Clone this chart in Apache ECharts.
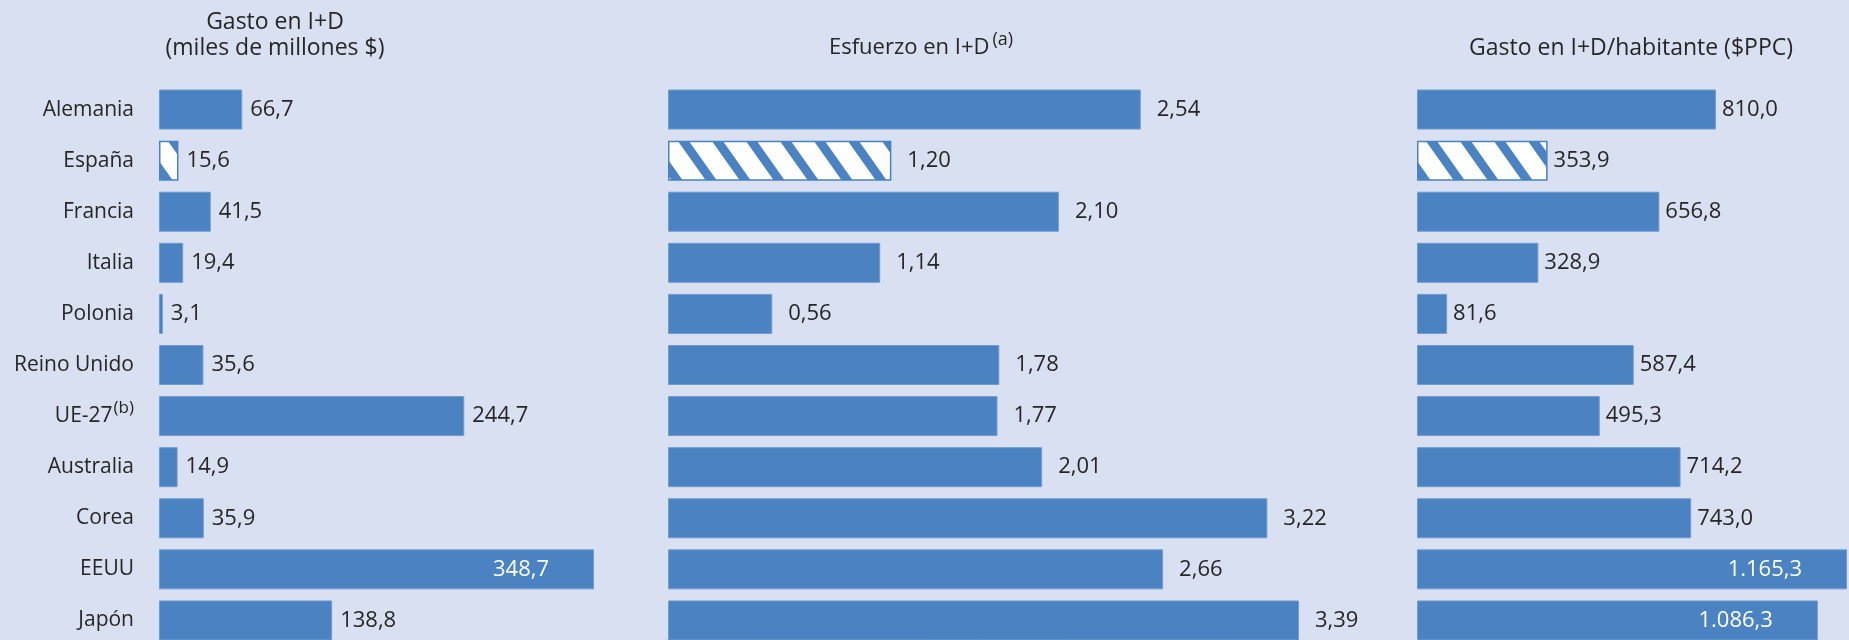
<!DOCTYPE html>
<html><head><meta charset="utf-8">
<script src="https://cdn.jsdelivr.net/npm/echarts@6/dist/echarts.min.js"></script>
<style>html,body{margin:0;padding:0;background:#d9e0f1}#c{width:1849px;height:640px}</style>
</head><body><div id="c"></div>
<script>
// ---- data ----
const categories = ['Alemania','España','Francia','Italia','Polonia','Reino Unido','UE-27','Australia','Corea','EEUU','Japón'];
const gasto = [66.7,15.6,41.5,19.4,3.1,35.6,244.7,14.9,35.9,348.7,138.8];
const esfuerzo = [2.54,1.20,2.10,1.14,0.56,1.78,1.77,2.01,3.22,2.66,3.39];
const porHabitante = [810.0,353.9,656.8,328.9,81.6,587.4,495.3,714.2,743.0,1165.3,1086.3];
const decimals = [1,2,1];
const footnotes = {'UE-27':'(b)'};
const highlighted = 'España';
const insideLabels = [['EEUU'],[],['EEUU','Japón']];

// ---- style ----
const BG = '#d9e0f1', BLUE = '#4a82c2', TEXT = '#262626';
const FONT = '"Open Sans", "Noto Sans", sans-serif';

function stripes(){
  const c = document.createElement('canvas'); c.width = 34; c.height = 48;
  const g = c.getContext('2d');
  g.fillStyle = '#fff'; g.fillRect(0,0,34,48);
  g.fillStyle = BLUE;
  for (let k=-1;k<=1;k++){
    const x = k*34;
    g.beginPath(); g.moveTo(x,0); g.lineTo(x+11,0); g.lineTo(x+45,48); g.lineTo(x+34,48); g.closePath(); g.fill();
  }
  return c;
}
const pattern = {image: stripes(), repeat: 'repeat'};

function fmt(v, d){
  const s = v.toFixed(d).split('.');
  s[0] = s[0].replace(/\B(?=(\d{3})+(?!\d))/g, '.');
  return s.join(',');
}

const seriesData = [gasto, esfuerzo, porHabitante];
const grids = [
  {left:159, top:84, width:435, height:562, outerBoundsMode:'none', containLabel:false},
  {left:668, top:84, width:631, height:562, outerBoundsMode:'none', containLabel:false},
  {left:1417, top:84, width:430, height:562, outerBoundsMode:'none', containLabel:false}
];
const gaps = [8,16,6];

const chart = echarts.init(document.getElementById('c'), null, {renderer:'canvas'});
const option = {
  backgroundColor: BG,
  animation: false,
  textStyle: {fontFamily: FONT},
  grid: grids,
  xAxis: grids.map((g,i)=>({gridIndex:i, type:'value', min:0, max:Math.max(...seriesData[i]), show:false})),
  yAxis: grids.map((g,i)=>({
    gridIndex:i, type:'category', data:categories, inverse:true,
    axisLine:{show:false}, axisTick:{show:false}, splitLine:{show:false},
    axisLabel: i===0 ? {
      show:true, margin:25, color:TEXT, fontSize:21, fontFamily:FONT,
      formatter: v => footnotes[v] ? '{n|'+v+'}{s|'+footnotes[v]+'}' : v,
      rich:{n:{fontSize:21, fontFamily:FONT, color:TEXT}, s:{fontSize:17, fontFamily:FONT, color:TEXT, padding:[0,0,16,1]}}
    } : {show:false}
  })),
  series: seriesData.map((arr,i)=>({
    type:'bar', xAxisIndex:i, yAxisIndex:i, barWidth:40, clip:false,
    itemStyle:{color:BLUE, borderColor:'#6f9bd0', borderWidth:1},
    label:{show:true, position:'right', distance:gaps[i], color:TEXT, fontSize:22, fontFamily:FONT,
      formatter: p => fmt(p.value, decimals[i])},
    data: arr.map((v,j)=>{
      const item = {value:v};
      if (categories[j]===highlighted) item.itemStyle = {color:pattern, borderColor:BLUE, borderWidth:1.5};
      if (insideLabels[i].includes(categories[j])) item.label = {position:'insideRight', distance:45, color:'#ffffff'};
      return item;
    })
  })),
  graphic: [
    {type:'text', x:275, y:22, style:{text:'Gasto en I+D', fill:TEXT, font:'23px '+FONT, textAlign:'center', textVerticalAlign:'middle'}},
    {type:'text', x:275, y:48, style:{text:'(miles de millones $)', fill:TEXT, font:'23px '+FONT, textAlign:'center', textVerticalAlign:'middle'}},
    {type:'text', x:921, y:48, style:{text:'{n|Esfuerzo en I+D}{s|(a)}', fill:TEXT, textAlign:'center', textVerticalAlign:'middle',
      rich:{n:{fontSize:22, fontFamily:FONT, fill:TEXT}, s:{fontSize:18, fontFamily:FONT, fill:TEXT, padding:[0,0,16,3]}}}},
    {type:'text', x:1631, y:48, style:{text:'Gasto en I+D/habitante ($PPC)', fill:TEXT, font:'23px '+FONT, textAlign:'center', textVerticalAlign:'middle'}}
  ]
};
chart.setOption(option);
</script>
</body></html>
